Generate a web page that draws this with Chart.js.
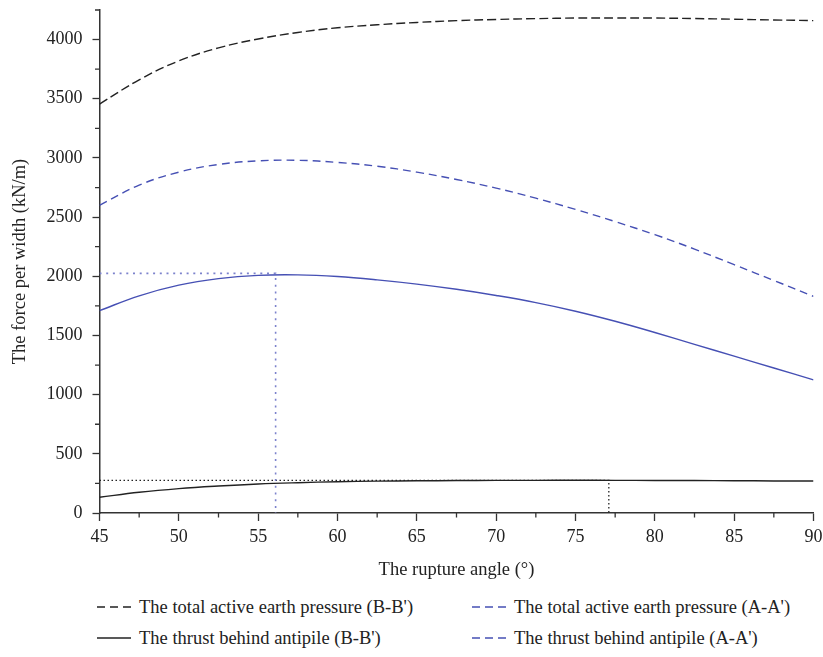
<!DOCTYPE html>
<html>
<head>
<meta charset="utf-8">
<script src="https://cdn.jsdelivr.net/npm/chart.js@4"></script>
<style>
  html, body { margin: 0; padding: 0; background: #fff; }
  body { width: 823px; height: 657px; position: relative; overflow: hidden; font-family: "Liberation Serif", serif; color: #222; }
  #wrap { position: absolute; left: 0; top: 0; width: 823px; height: 585px; }
  .legend { position: absolute; left: 0; top: 0; width: 823px; }
  .item { position: absolute; display: flex; align-items: center; font-size: 18.5px; white-space: nowrap; height: 22px; }
  .item svg { margin-right: 8px; }
</style>
</head>
<body>
<div id="wrap"><canvas id="chart"></canvas></div>
<div class="legend" id="legend"></div>
<script>
// ==================== Data ====================
const angles = [45, 47.5, 50, 52.5, 55, 57.5, 60, 62.5, 65, 67.5, 70, 72.5, 75, 77.5, 80, 82.5, 85, 87.5, 90];
const totalBB = [3455, 3660, 3820, 3930, 4005, 4060, 4100, 4125, 4145, 4160, 4170, 4177, 4182, 4183, 4182, 4178, 4172, 4166, 4160];
const totalAA = [2600, 2770, 2880, 2945, 2975, 2980, 2962, 2930, 2880, 2818, 2745, 2660, 2565, 2462, 2352, 2230, 2098, 1965, 1830];
const thrustBB = [133, 175, 206, 228, 245, 256, 264, 269, 272, 274, 275.5, 276, 276.5, 276, 275, 274, 273, 271, 270];
const thrustAA = [1710, 1835, 1925, 1980, 2008, 2012, 1998, 1970, 1934, 1890, 1838, 1778, 1705, 1620, 1525, 1425, 1325, 1225, 1125];
// guide lines to the maxima
const peakAAx = [45, 56.1, 56.1];
const peakAAy = [2025, 2025, 0];
const peakBBx = [45, 77.1, 77.1];
const peakBBy = [276, 276, 0];

const xTicks = [45, 50, 55, 60, 65, 70, 75, 80, 85, 90];
const yTicks = [0, 500, 1000, 1500, 2000, 2500, 3000, 3500, 4000];

const BLUE = '#4650b4';
const BLUE_DOT = '#7c82cc';
const BLACK = '#222';
const FONT = '"Liberation Serif", serif';

const pts = (xs, ys) => xs.map((x, i) => ({ x, y: ys[i] }));

// minor ticks (Chart.js has none of its own)
const minorTicks = {
    id: 'minorTicks',
    afterDraw(chart) {
        const { ctx, chartArea, scales } = chart;
        ctx.save();
        ctx.strokeStyle = '#333';
        ctx.lineWidth = 1.3;
        ctx.beginPath();
        for (let v = 47.5; v < 90; v += 5) {
            const px = scales.x.getPixelForValue(v);
            ctx.moveTo(px, chartArea.bottom);
            ctx.lineTo(px, chartArea.bottom + 4.5);
        }
        for (let v = 250; v <= 4250; v += 500) {
            const py = scales.y.getPixelForValue(v);
            ctx.moveTo(chartArea.left, py);
            ctx.lineTo(chartArea.left - 4.5, py);
        }
        ctx.stroke();
        ctx.restore();
    }
};

const line = (label, xs, ys, color, dash, width) => ({
    label,
    data: pts(xs, ys),
    borderColor: color,
    borderDash: dash,
    borderWidth: width,
    pointRadius: 0,
    fill: false,
    tension: 0.4
});

new Chart(document.getElementById('chart'), {
    type: 'line',
    data: {
        datasets: [
            line("The total active earth pressure (B-B')", angles, totalBB, BLACK, [9, 4], 1.4),
            line("The total active earth pressure (A-A')", angles, totalAA, BLUE, [8, 5], 1.4),
            line("The thrust behind antipile (B-B')", angles, thrustBB, BLACK, [], 1.4),
            line("The thrust behind antipile (A-A')", angles, thrustAA, BLUE, [], 1.4),
            Object.assign(line('peakAA', peakAAx, peakAAy, BLUE_DOT, [2, 4.7], 1.6), { tension: 0 }),
            Object.assign(line('peakBB', peakBBx, peakBBy, BLACK, [1.5, 2.5], 1.3), { tension: 0 })
        ]
    },
    options: {
        responsive: true,
        maintainAspectRatio: false,
        animation: false,
        layout: { padding: { left: 0, right: 9.5, top: 10, bottom: 0 } },
        plugins: { legend: { display: false }, tooltip: { enabled: false } },
        scales: {
            x: {
                type: 'linear',
                min: 45,
                max: 90,
                afterFit: s => { s.height = 72; s.paddingLeft = 0; s.paddingRight = 0; },
                afterBuildTicks: s => { s.ticks = xTicks.map(v => ({ value: v })); },
                border: { color: '#333', width: 1.5 },
                grid: { drawOnChartArea: false, tickLength: 8, tickColor: '#333', tickWidth: 1.3 },
                ticks: { color: '#222', font: { family: FONT, size: 18 }, padding: 5, maxRotation: 0, callback: v => String(v) },
                title: { display: true, text: 'The rupture angle (°)', color: '#222', font: { family: FONT, size: 18.5 }, padding: { top: 2, bottom: 4 } }
            },
            y: {
                min: 0,
                max: 4250,
                afterFit: s => { s.width = 99.5; s.paddingTop = 0; s.paddingBottom = 0; },
                afterBuildTicks: s => { s.ticks = yTicks.map(v => ({ value: v })); },
                border: { color: '#333', width: 1.5 },
                grid: { drawOnChartArea: false, tickLength: 7, tickColor: '#333', tickWidth: 1.3 },
                ticks: { color: '#222', font: { family: FONT, size: 18 }, padding: 10, callback: v => String(v) },
                title: { display: true, text: 'The force per width (kN/m)', color: '#222', font: { family: FONT, size: 18.5 }, padding: { top: 9, bottom: 4 } }
            }
        }
    },
    plugins: [minorTicks]
});

// ==================== Legend ====================
const legendItems = [
    { text: "The total active earth pressure (B-B')", color: BLACK, dash: '8,5', left: 97, top: 596 },
    { text: "The total active earth pressure (A-A')", color: BLUE, dash: '8,5', left: 472, top: 596 },
    { text: "The thrust behind antipile (B-B')", color: BLACK, dash: '', left: 97, top: 627 },
    { text: "The thrust behind antipile (A-A')", color: BLUE, dash: '8,5', left: 472, top: 627 }
];
const legendEl = document.getElementById('legend');
legendEl.innerHTML = legendItems.map(it => `<div class="item" style="left:${it.left}px;top:${it.top}px">
    <svg width="34" height="4"><line x1="0" y1="2" x2="34" y2="2" stroke="${it.color}" stroke-width="1.4" ${it.dash ? `stroke-dasharray="${it.dash}"` : ''}/></svg>
    <span>${it.text}</span></div>`).join('');
</script>
</body>
</html>
